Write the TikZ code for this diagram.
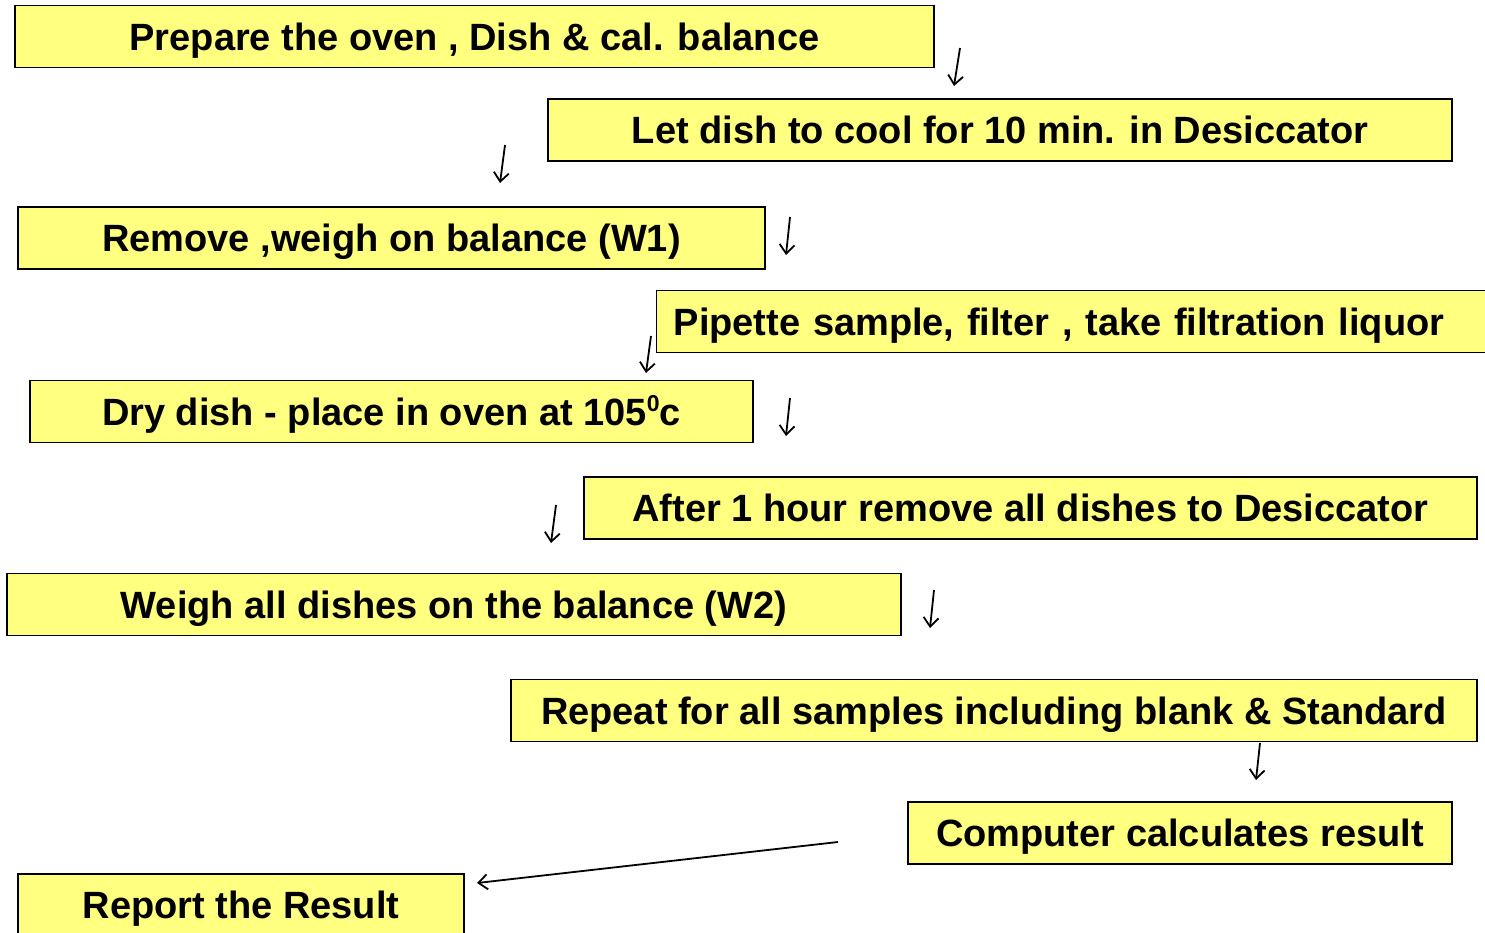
\documentclass[tikz,border=0pt]{standalone}
\usepackage{fontspec}
\setmainfont{Liberation Sans}
\usetikzlibrary{arrows.meta}
\definecolor{boxyellow}{RGB}{255,255,128}
\begin{document}
\begin{tikzpicture}[x=1pt, y=-1pt, >={Straight Barb[length=9pt,width=15pt]},
    stepbox/.style={draw=black, line width=1.3pt, fill=boxyellow,
      minimum height=62pt, inner sep=0pt, text height=27.2pt, text depth=0pt,
      font=\fontsize{38}{40}\selectfont\bfseries}]
    \clip (0,0) rectangle (1485,933);
    % Step boxes
    \node[stepbox, minimum width=919pt] (prep) at (474.5,36.5) {Prepare the oven , Dish \& cal. balance};
    \node[stepbox, minimum width=904pt] (cool) at (1000,130) {Let dish to cool for 10 min. in Desiccator};
    \node[stepbox, minimum width=747pt] (wone) at (391.5,238) {Remove ,weigh on balance (W1)};
    \node[stepbox, anchor=west, inner xsep=17pt, text width=830pt, align=left]
      (pipette) at (656,321.5) {Pipette sample, filter , take filtration liquor};
    \node[stepbox, minimum width=723pt] (dry) at (391.5,411.5)
      {Dry dish - place in oven at 105\raisebox{14pt}{\fontsize{23}{23}\selectfont 0}c};
    \node[stepbox, minimum width=893pt] (after) at (1030.5,508) {After 1 hour remove all dishes to Desiccator};
    \node[stepbox, minimum width=894pt] (wtwo) at (454,604.5) {Weigh all dishes on the balance (W2)};
    \node[stepbox, minimum width=966pt] (repeat) at (994,710.5) {Repeat for all samples including blank \& Standard};
    \node[stepbox, minimum width=544pt] (calc) at (1180,833) {Computer calculates result};
    \node[stepbox, minimum width=446pt] (report) at (241,905) {Report the Result};
    % Small arrows between the steps
    \foreach \n/\xa/\ya/\xb/\yb in {1/960/48/954/86, 2/505/145/500/183, 3/790/217/786/255,
        4/651/336/646/373, 5/790/398/786/436, 6/556/505/551/543, 7/934/590/930/628,
        8/1260/743/1256/780}{
      \coordinate (top\n) at (\xa,\ya);
      \coordinate (bot\n) at (\xb,\yb);
      \draw[->, line width=1.8pt] (top\n) -- (bot\n);
    }
    % Long arrow to the report
    \coordinate (from) at (838,842);
    \coordinate (to) at (477,883);
    \draw[->, line width=1.8pt] (from) -- (to);
\end{tikzpicture}
\end{document}
